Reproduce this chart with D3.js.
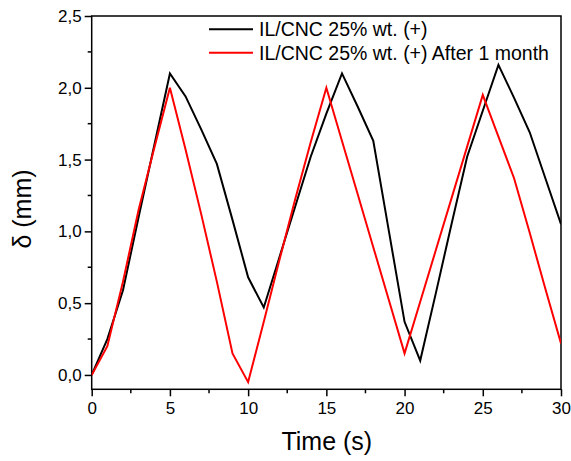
<!DOCTYPE html>
<html>
<head>
<meta charset="utf-8">
<script src="https://d3js.org/d3.v7.min.js"></script>
<style>
body{margin:0;background:#fff;}
text{font-family:Arial,"Liberation Sans",sans-serif;}
</style>
</head>
<body>
<script>
var width = 571, height = 461;
var mLeft = 91.7, mRight = 561, mTop = 16, mBottom = 389.3;

var seriesNames = ["IL/CNC 25% wt. (+)", "IL/CNC 25% wt. (+) After 1 month"];
var seriesColors = ["#000000", "#ff0000"];
var times = [0,1,2,3,4,5,6,7,8,9,10,11,12,13,14,15,16,17,18,19,20,21,22,23,24,25,26,27,28,29,30];
var blackVals = [0,0.25,0.59,1.1,1.6,2.1,1.94,1.71,1.47,1.08,0.68,0.47,0.82,1.17,1.52,1.82,2.1,1.87,1.63,1.0,0.37,0.1,0.57,1.05,1.52,1.84,2.16,1.93,1.69,1.37,1.05];
var redVals = [0,0.2,0.65,1.15,1.58,2.0,1.57,1.12,0.65,0.15,-0.05,0.37,0.8,1.22,1.62,2.0,1.63,1.26,0.89,0.52,0.15,0.51,0.87,1.23,1.59,1.95,1.66,1.37,0.99,0.6,0.22];
var xTicks = [0,5,10,15,20,25,30];
var yTicks = [0,0.5,1,1.5,2,2.5];

var svg = d3.select("body").append("svg")
.attr("width",width).attr("height",height);

var x = d3.scaleLinear().domain([0,30]).range([mLeft,mRight]);
var y = d3.scaleLinear().domain([-0.1,2.5]).range([mBottom,mTop]);

var fmt = function(d){ return d3.format(".1f")(d).replace(".",","); };

// axes
var xaxis = d3.axisBottom(x).tickValues(xTicks).tickSize(7).tickPadding(6).tickFormat(d3.format("d"));
var yaxis = d3.axisLeft(y).tickValues(yTicks).tickSize(7).tickPadding(3).tickFormat(fmt);

var gx = svg.append("g").attr("transform","translate(0," + mBottom + ")").call(xaxis);
var gy = svg.append("g").attr("transform","translate(" + mLeft + ",0)").call(yaxis);

// minor ticks
svg.append("g").selectAll("line").data(d3.range(2.5,30,5)).enter().append("line")
.attr("x1",function(d){return x(d);}).attr("x2",function(d){return x(d);})
.attr("y1",mBottom).attr("y2",mBottom+4).attr("stroke","#000").attr("stroke-width",1.5);
svg.append("g").selectAll("line").data(d3.range(0.25,2.5,0.5)).enter().append("line")
.attr("y1",function(d){return y(d);}).attr("y2",function(d){return y(d);})
.attr("x1",mLeft).attr("x2",mLeft-4).attr("stroke","#000").attr("stroke-width",1.5);

[gx,gy].forEach(function(g){
  g.select(".domain").remove();
  g.selectAll(".tick line").attr("stroke","#000").attr("stroke-width",1.5);
  g.selectAll(".tick text").style("font-size","17px").attr("fill","#000");
});

// frame
svg.append("rect").attr("x",mLeft).attr("y",mTop).attr("width",mRight-mLeft).attr("height",mBottom-mTop)
.attr("fill","none").attr("stroke","#000").attr("stroke-width",1.5);

// lines
svg.append("clipPath").attr("id","clip").append("rect")
.attr("x",mLeft).attr("y",mTop).attr("width",mRight-mLeft).attr("height",mBottom-mTop);
var line = d3.line().x(function(d,i){return x(times[i]);}).y(function(d){return y(d);});
[blackVals, redVals].forEach(function(vals,k){
  svg.append("path").datum(vals).attr("d",line)
  .attr("fill","none").attr("stroke",seriesColors[k]).attr("stroke-width",2)
  .attr("stroke-linejoin","miter").attr("clip-path","url(#clip)");
});

// legend
var legend = svg.append("g");
seriesNames.forEach(function(name,k){
  var ly = 29.3 + k*23.4;
  legend.append("line").attr("x1",209).attr("x2",253).attr("y1",ly).attr("y2",ly)
  .attr("stroke",seriesColors[k]).attr("stroke-width",2);
  legend.append("text").attr("x",259).attr("y",ly+7).style("font-size","19.5px").text(name);
});

// titles
svg.append("text").attr("x",(mLeft+mRight)/2 + 0.5).attr("y",450).attr("text-anchor","middle")
.style("font-size","25px").text("Time (s)");
svg.append("text").attr("transform","translate(31,209) rotate(-90)").attr("text-anchor","middle")
.style("font-size","25px").text("δ (mm)");
</script>
</body>
</html>
